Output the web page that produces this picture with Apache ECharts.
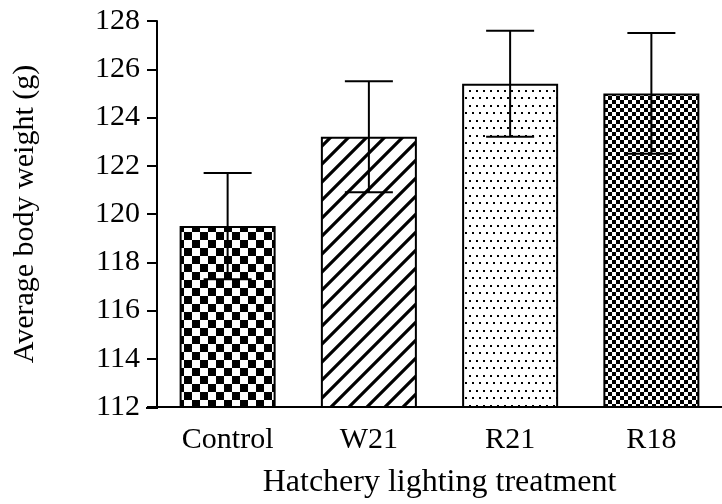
<!DOCTYPE html>
<html><head><meta charset="utf-8">
<script src="https://cdn.jsdelivr.net/npm/echarts@6/dist/echarts.min.js"></script>
<style>html,body{margin:0;padding:0;background:#fff}#c{width:722px;height:504px}</style>
</head><body><div id="c"></div>
<script>
const categories = ['Control', 'W21', 'R21', 'R18'];
const means = [119.5, 123.2, 125.4, 125.0];
const errLow = [117.3, 120.9, 123.2, 122.5];
const errHigh = [121.7, 125.5, 127.6, 127.5];
const yTicks = {min: 112, max: 128, interval: 2};

function mk(w, h, draw) {
  const c = document.createElement('canvas'); c.width = w; c.height = h;
  const g = c.getContext('2d'); g.fillStyle = '#fff'; g.fillRect(0, 0, w, h);
  g.fillStyle = '#000'; g.strokeStyle = '#000'; draw(g); return c;
}
const checkBig = mk(16, 16, g => { g.fillRect(0, 0, 8, 8); g.fillRect(8, 8, 8, 8); });
const hatch = mk(18, 18, g => {
  g.lineWidth = 3.2; g.lineCap = 'square';
  [[0, 18, 18, 0], [-18, 18, 18, -18], [0, 36, 36, 0]].forEach(l => {
    g.beginPath(); g.moveTo(l[0], l[1]); g.lineTo(l[2], l[3]); g.stroke();
  });
});
const dots = mk(14, 15, g => { g.fillRect(0, 0, 2, 2); g.fillRect(7, 0, 2, 2); g.fillRect(3, 7, 2, 2); g.fillRect(10, 7, 2, 2); });
const checkSmall = mk(8, 8, g => { g.fillRect(0, 0, 4, 4); g.fillRect(4, 4, 4, 4); });
const patterns = [checkBig, hatch, dots, checkSmall];

const chart = echarts.init(document.getElementById('c'), null, {renderer: 'canvas'});
const font = 'Liberation Serif';
chart.setOption({
  animation: false,
  grid: {left: 157, top: 21, height: 387, width: 572},
  xAxis: {
    type: 'category', data: categories,
    axisLine: {lineStyle: {color: '#000', width: 2}},
    axisTick: {alignWithLabel: true, length: 10, lineStyle: {color: '#000', width: 2}},
    axisLabel: {color: '#000', fontFamily: font, fontSize: 30, margin: 18},
    name: 'Hatchery lighting treatment', nameLocation: 'middle', nameGap: 60,
    nameTextStyle: {color: '#000', fontFamily: font, fontSize: 32}
  },
  yAxis: {
    type: 'value', min: yTicks.min, max: yTicks.max, interval: yTicks.interval,
    axisLine: {show: true, lineStyle: {color: '#000', width: 2}},
    axisTick: {show: true, length: 10, lineStyle: {color: '#000', width: 2}},
    splitLine: {show: false},
    axisLabel: {color: '#000', fontFamily: font, fontSize: 30, margin: 17},
    name: 'Average body weight (g)', nameLocation: 'middle', nameGap: 117,
    nameTextStyle: {color: '#000', fontFamily: font, fontSize: 30}
  },
  graphic: [{type: 'line', shape: {x1: 146, y1: 408, x2: 158, y2: 408}, style: {stroke: '#000', lineWidth: 2}}],
  series: [
    {
      type: 'bar', barWidth: 96,
      data: means.map((v, i) => ({value: v, itemStyle: {color: {image: patterns[i], repeat: 'repeat'}}})),
      itemStyle: {borderColor: '#000', borderWidth: 2}
    },
    {
      type: 'custom', z: 5,
      data: categories.map((c, i) => [i, errLow[i], errHigh[i]]),
      renderItem: function (params, api) {
        const lo = api.coord([api.value(0), api.value(1)]);
        const hi = api.coord([api.value(0), api.value(2)]);
        const hw = 24;
        const st = {stroke: '#000', lineWidth: 2};
        return {type: 'group', children: [
          {type: 'line', shape: {x1: hi[0], y1: hi[1], x2: lo[0], y2: lo[1]}, style: st},
          {type: 'line', shape: {x1: hi[0] - hw, y1: hi[1], x2: hi[0] + hw, y2: hi[1]}, style: st},
          {type: 'line', shape: {x1: lo[0] - hw, y1: lo[1], x2: lo[0] + hw, y2: lo[1]}, style: st}
        ]};
      }
    }
  ]
});
</script></body></html>
